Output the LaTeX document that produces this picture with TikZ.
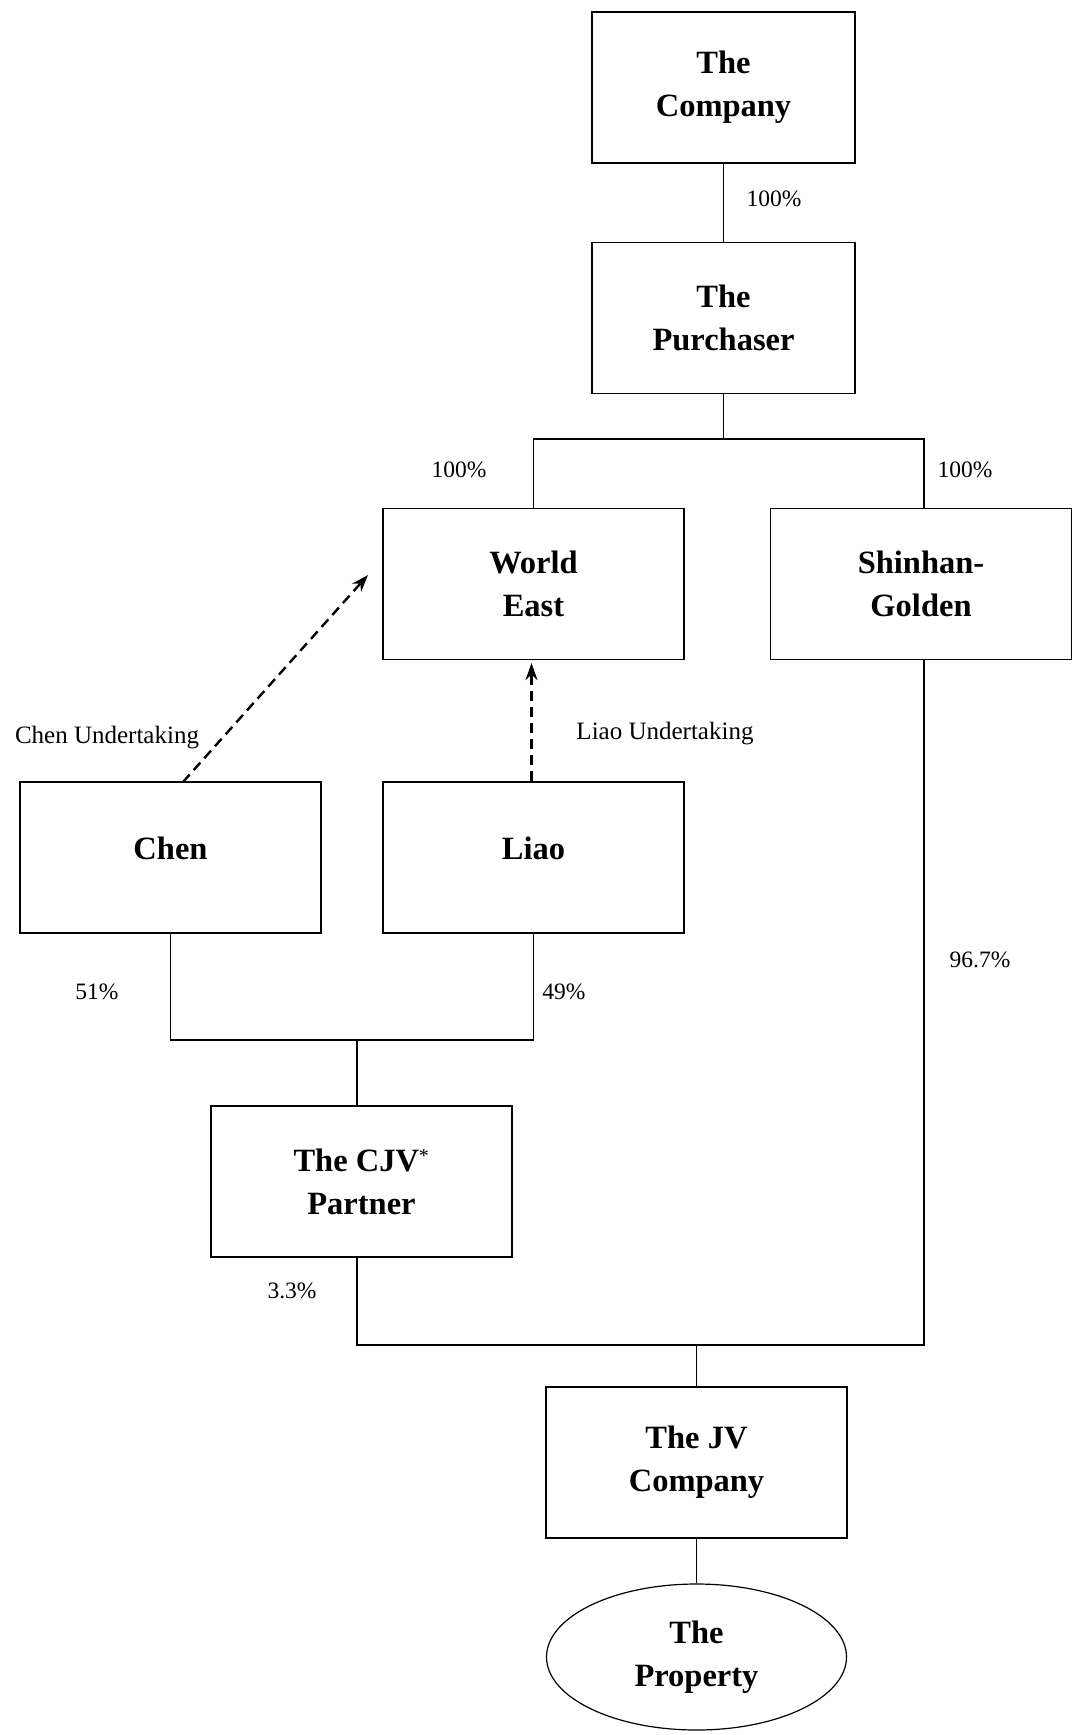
\documentclass[tikz,border=0pt]{standalone}
\usepackage{fontspec}
\setmainfont{Liberation Serif}
\usetikzlibrary{arrows.meta,shapes.geometric}
\tikzset{
  entity/.style={draw,line width=1.2pt,minimum width=301pt,minimum height=151pt,
    inner sep=0pt,align=center,font=\bfseries\fontsize{32.5}{43}\selectfont},
  share/.style={font=\fontsize{23.5}{28}\selectfont,inner sep=0pt},
  note/.style={font=\fontsize{25}{30}\selectfont,inner sep=0pt},
  link/.style={line width=1.2pt},
  undertaking/.style={line width=2.4pt,dash pattern=on 10pt off 6pt,-{Stealth[length=17pt,width=12pt]}}
}
\begin{document}
\begin{tikzpicture}[x=1pt,y=-1pt]
  \useasboundingbox (0,0) rectangle (1073,1735);
  % holding chain
  \node[entity,minimum width=263pt] (company) at (723.5,87.5) {The\\Company};
  \node[entity,minimum width=263pt] (purchaser) at (723.5,318) {The\\Purchaser};
  \node[entity] (worldeast) at (533.5,584) {World\\East};
  \node[entity] (shinhan) at (921,584) {Shinhan-\\Golden};
  \node[entity,text depth=18pt] (chen) at (170.5,857.5) {Chen};
  \node[entity,text depth=18pt] (liao) at (533.5,857.5) {Liao};
  \node[entity] (cjv) at (361.5,1181.5) {The CJV\textsuperscript{\mdseries\fontsize{20}{20}\selectfont *}\\Partner};
  \node[entity] (jv) at (696.5,1462.5) {The JV\\Company};
  \node[ellipse,draw,line width=1.2pt,minimum width=300pt,minimum height=146pt,inner sep=0pt,
    align=center,font=\bfseries\fontsize{32.5}{43}\selectfont] (property) at (696.5,1657) {The\\Property};
  \coordinate (split) at (533.5,439);
  \coordinate (merge) at (357,1040);
  \coordinate (jvtop) at (696.5,1345);
  \coordinate (chentip) at (368,575);
  \coordinate (chenfoot) at (183,782);
  % connectors
  \draw[link] (company) -- (purchaser);
  \draw[link] (purchaser.south) -- (purchaser.south |- split);
  \draw[link] (worldeast.north) -- (split) -| ([xshift=3pt]shinhan.north);
  \draw[link] (chen.south) -- (chen.south |- merge) -- (liao.south |- merge) -- (liao.south);
  \draw[link] (merge) -- (merge |- cjv.north);
  \draw[link] (merge |- cjv.south) |- (jvtop) -| ([xshift=3pt]shinhan.south);
  \draw[link] (jvtop) -- (jv.north);
  \draw[link] (jv) -- (property);
  \draw[undertaking] (chenfoot) -- (chentip);
  \draw[undertaking] ([xshift=-2pt]liao.north) -- ([xshift=-2pt,yshift=-3pt]worldeast.south);
  % percentages
  \node[share] (p1) at (774,199) {100\%};
  \node[share] (p2) at (459,470) {100\%};
  \node[share] (p3) at (965,470) {100\%};
  \node[share] (p4) at (97,992) {51\%};
  \node[share] (p5) at (564,992) {49\%};
  \node[share] (p6) at (292,1291) {3.3\%};
  \node[share] (p7) at (980,960) {96.7\%};
  \node[note] (chenlabel) at (107,738) {Chen Undertaking};
  \node[note] (liaolabel) at (665,734) {Liao Undertaking};
\end{tikzpicture}
\end{document}
